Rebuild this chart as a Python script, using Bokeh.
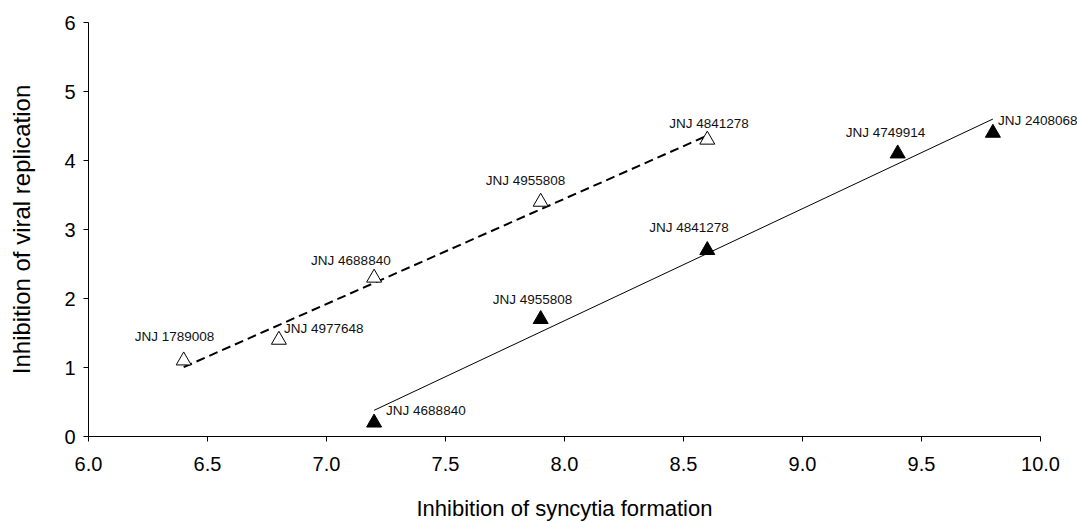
import numpy as np
from bokeh.plotting import figure
from bokeh.models import Range1d, FixedTicker, NumeralTickFormatter, ColumnDataSource, Title
from bokeh.core.properties import value
from bokeh.embed import file_html
from bokeh.resources import INLINE

# Data
open_x = [6.4, 6.8, 7.2, 7.9, 8.6]
open_y = [1.1, 1.4, 2.3, 3.4, 4.3]
open_names = ["JNJ 1789008", "JNJ 4977648", "JNJ 4688840", "JNJ 4955808", "JNJ 4841278"]

filled_x = [7.2, 7.9, 8.6, 9.4, 9.8]
filled_y = [0.2, 1.7, 2.7, 4.1, 4.4]
filled_names = ["JNJ 4688840", "JNJ 4955808", "JNJ 4841278", "JNJ 4749914", "JNJ 2408068"]

x_ticks = [6.0, 6.5, 7.0, 7.5, 8.0, 8.5, 9.0, 9.5, 10.0]
y_ticks = [0, 1, 2, 3, 4, 5, 6]

# label placement (pixels, relative to point; screen, dy positive = down)
open_dx = [-49, 5, -63, -55, -38]
open_dy = [-24, -11, -17, -21, -16]
filled_dx = [12, -48, -58, -52, 5]
filled_dy = [-12, -20, -23, -21, -12]

FONT = "Liberation Sans"

# plot frame: x 6..10 over 952 px; the frame is extended to the right edge so that
# the last point label is not clipped, while the axis line stops at 10
x_end = 10 + 37 / 238.0

p = figure(width=1077, height=522, output_backend="svg", toolbar_location=None,
           x_range=Range1d(6, x_end), y_range=Range1d(0, 6),
           min_border_left=88, min_border_right=0, min_border_top=22, min_border_bottom=86)
p.outline_line_color = None
p.xgrid.visible = False
p.ygrid.visible = False
p.background_fill_color = "white"
p.border_fill_color = "white"

# linear trend lines (least squares fits of each series)
ko = np.polyfit(open_x, open_y, 1)
kf = np.polyfit(filled_x, filled_y, 1)
ox = [min(open_x), max(open_x)]
fx = [min(filled_x), max(filled_x)]
p.line(ox, list(np.polyval(ko, ox)), line_color="black", line_width=2, line_dash="9 5")
p.line(fx, list(np.polyval(kf, fx)), line_color="black", line_width=1)

p.scatter(open_x, open_y, marker="triangle", size=15, fill_color="white",
          line_color="black", line_width=1)
p.scatter(filled_x, filled_y, marker="triangle", size=15, fill_color="black",
          line_color="black", line_width=1)

src_o = ColumnDataSource(dict(x=open_x, y=open_y, t=open_names, dx=open_dx, dy=open_dy))
src_f = ColumnDataSource(dict(x=filled_x, y=filled_y, t=filled_names, dx=filled_dx, dy=filled_dy))
for src in (src_o, src_f):
    p.text(x="x", y="y", text="t", x_offset="dx", y_offset="dy", source=src,
           text_font=value(FONT), text_font_size="13.5px", text_color="#111111",
           text_align="left", text_baseline="middle")

for ax in (p.xaxis[0], p.yaxis[0]):
    ax.axis_line_color = "black"
    ax.axis_line_width = 1
    ax.major_tick_line_color = "black"
    ax.major_tick_in = 0
    ax.major_tick_out = 5
    ax.minor_tick_line_color = None
    ax.major_label_text_font = FONT
    ax.major_label_text_font_size = "20px"
    ax.major_label_text_color = "black"
    ax.axis_label_text_font = FONT
    ax.axis_label_text_font_style = "normal"
    ax.axis_label_text_color = "black"

p.yaxis.axis_label_text_font_size = "24px"
p.xaxis.bounds = (6, 10)
p.xaxis.ticker = FixedTicker(ticks=x_ticks)
p.yaxis.ticker = FixedTicker(ticks=y_ticks)
p.xaxis.formatter = NumeralTickFormatter(format="0.0")
p.yaxis.axis_label = "Inhibition of viral replication"
p.xaxis.major_label_standoff = 15
p.yaxis.major_label_standoff = 8
p.yaxis.axis_label_standoff = 26

# x-axis title, centred under the 6..10 span of the axis
xtitle = Title(text="Inhibition of syncytia formation", align="left", offset=328,
               text_font=FONT, text_font_size="22px", text_font_style="normal",
               text_color="black", standoff=0, vertical_align="bottom",
               padding=dict(top=20, bottom=0, left=0, right=0))
p.add_layout(xtitle, "below")

open("out.html", "w").write(file_html(p, INLINE))
